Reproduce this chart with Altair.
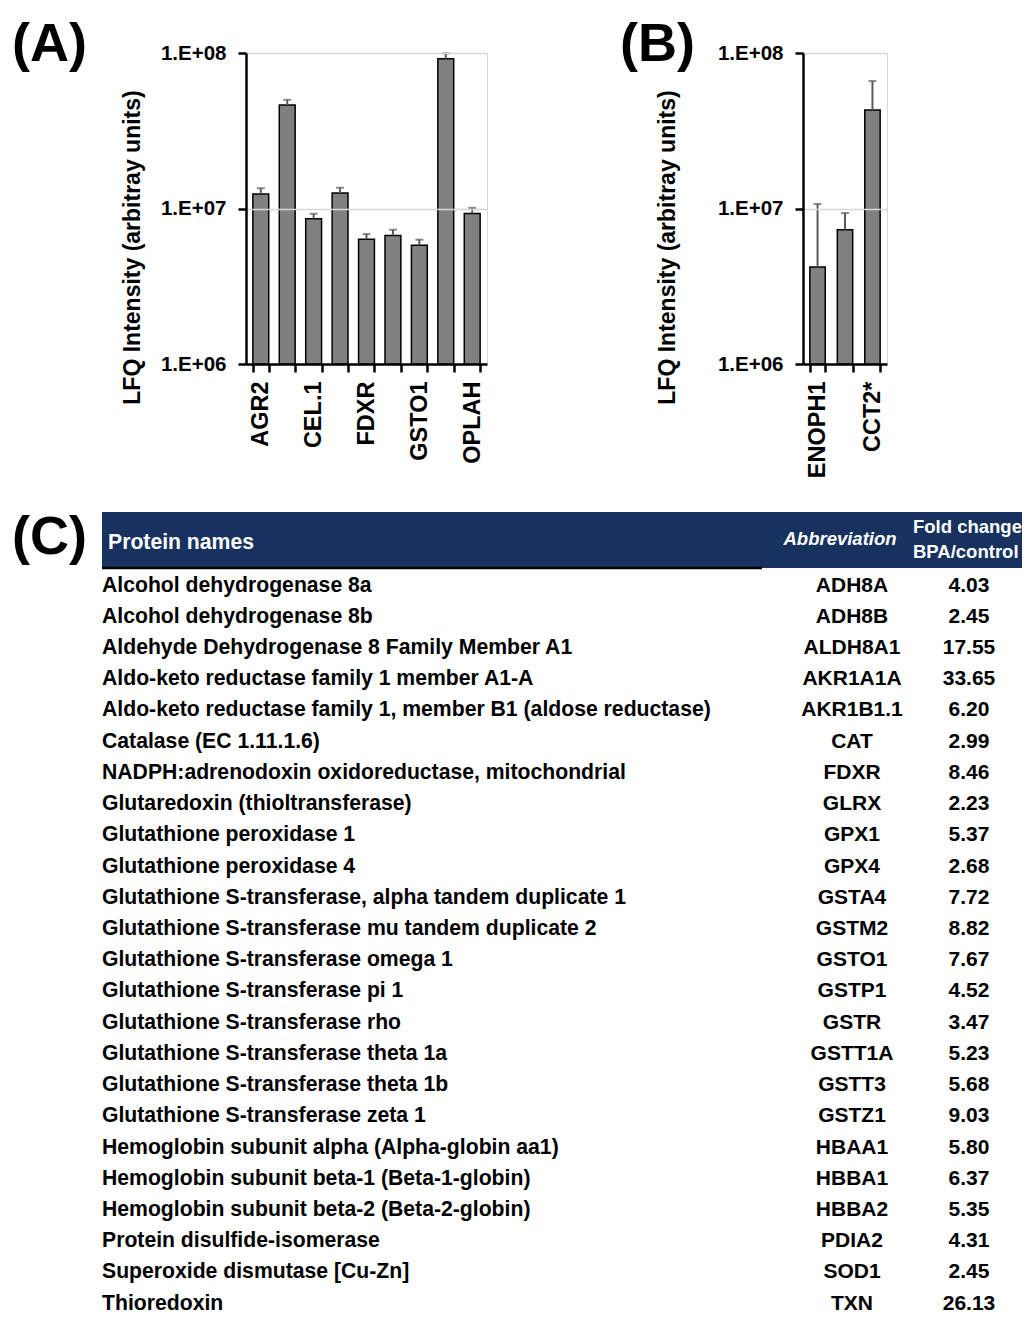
import json
import altair as alt
import pandas as pd

SANS = "Liberation Sans, Arial"

# ---------------- Panel A data ----------------
genes_a = ["AGR2", "A_bar2", "CEL.1", "A_bar4", "FDXR", "A_bar6", "GSTO1", "A_bar8", "OPLAH"]
shown_a = ["AGR2", "CEL.1", "FDXR", "GSTO1", "OPLAH"]
lfq_a = [1.24e7, 4.63e7, 8.6e6, 1.26e7, 6.35e6, 6.7e6, 5.8e6, 9.2e7, 9.3e6]
upper_a = [1.35e7, 5.0e7, 9.25e6, 1.36e7, 6.85e6, 7.3e6, 6.3e6, 9.95e7, 1.01e7]

# ---------------- Panel B data ----------------
genes_b = ["ENOPH1", "B_bar2", "CCT2*"]
shown_b = ["ENOPH1", "CCT2*"]
lfq_b = [4.2e6, 7.3e6, 4.3e7]
upper_b = [1.07e7, 9.35e6, 6.6e7]

y_ticks = [1e6, 1e7, 1e8]
y_base = 1e6
y_title = "LFQ Intensity (arbitray units)"
panel_letters = ["(A)", "(B)", "(C)"]

# ---------------- Panel C data ----------------
protein_names = [
    "Alcohol dehydrogenase 8a",
    "Alcohol dehydrogenase 8b",
    "Aldehyde Dehydrogenase 8 Family Member A1",
    "Aldo-keto reductase family 1 member A1-A",
    "Aldo-keto reductase family 1, member B1 (aldose reductase)",
    "Catalase (EC 1.11.1.6)",
    "NADPH:adrenodoxin oxidoreductase, mitochondrial",
    "Glutaredoxin (thioltransferase)",
    "Glutathione peroxidase 1",
    "Glutathione peroxidase 4",
    "Glutathione S-transferase, alpha tandem duplicate 1",
    "Glutathione S-transferase mu tandem duplicate 2",
    "Glutathione S-transferase omega 1",
    "Glutathione S-transferase pi 1",
    "Glutathione S-transferase rho",
    "Glutathione S-transferase theta 1a",
    "Glutathione S-transferase theta 1b",
    "Glutathione S-transferase zeta 1",
    "Hemoglobin subunit alpha (Alpha-globin aa1)",
    "Hemoglobin subunit beta-1 (Beta-1-globin)",
    "Hemoglobin subunit beta-2 (Beta-2-globin)",
    "Protein disulfide-isomerase",
    "Superoxide dismutase [Cu-Zn]",
    "Thioredoxin",
]
abbreviations = [
    "ADH8A", "ADH8B", "ALDH8A1", "AKR1A1A", "AKR1B1.1", "CAT", "FDXR", "GLRX",
    "GPX1", "GPX4", "GSTA4", "GSTM2", "GSTO1", "GSTP1", "GSTR", "GSTT1A",
    "GSTT3", "GSTZ1", "HBAA1", "HBBA1", "HBBA2", "PDIA2", "SOD1", "TXN",
]
fold_changes = [
    "4.03", "2.45", "17.55", "33.65", "6.20", "2.99", "8.46", "2.23",
    "5.37", "2.68", "7.72", "8.82", "7.67", "4.52", "3.47", "5.23",
    "5.68", "9.03", "5.80", "6.37", "5.35", "4.31", "2.45", "26.13",
]
header_texts = ["Protein names", "Abbreviation", "Fold change", "BPA/control"]

PLOT_H = 311


def letter_layer(letter, dx, dy):
    return alt.Chart(pd.DataFrame({"t": [letter]})).mark_text(
        align="left", baseline="alphabetic", font=SANS, fontSize=54,
        fontWeight="bold", color="black",
    ).encode(text="t:N", x=alt.value(dx), y=alt.value(dy))


def bar_panel(genes, vals, uppers, shown, width, title_pad, pad_inner, pad_outer):
    df = pd.DataFrame({"gene": genes, "lfq": vals, "upper": uppers})
    label_expr = "indexof(" + json.dumps(shown) + ", datum.value) >= 0 ? datum.label : ''"
    x = alt.X(
        "gene:N", sort=None, title=None,
        scale=alt.Scale(paddingInner=pad_inner, paddingOuter=pad_outer),
        axis=alt.Axis(
            labelAngle=-90, labelExpr=label_expr, tickBand="extent",
            tickSize=8, tickWidth=2.5, tickColor="black",
            domainColor="black", domainWidth=2.5,
            labelPadding=9, labelFont=SANS, labelFontSize=23.5,
            labelFontWeight="bold", labelColor="black", zindex=1,
        ),
    )
    y = alt.Y(
        "lfq:Q", title=y_title,
        scale=alt.Scale(type="log", domain=[1e6, 1e8]),
        axis=alt.Axis(
            values=y_ticks, labelExpr="'1.E+0' + round(log(datum.value) / LN10)",
            grid=True, gridColor="#d6d6d6", gridWidth=1.5,
            tickSize=8, tickWidth=2.5, tickColor="black",
            domainColor="black", domainWidth=2.5,
            labelPadding=12, labelFont=SANS, labelFontSize=20.5,
            labelFontWeight="bold", labelColor="black",
            titleFont=SANS, titleFontSize=23, titleFontWeight="bold",
            titleColor="black", titlePadding=title_pad, titleY=194, zindex=1,
        ),
    )
    bars = alt.Chart(df).mark_bar(fill="#808080", stroke="black", strokeWidth=1.5).encode(
        x=x, y=y, y2=alt.datum(y_base))
    err = alt.Chart(df).mark_rule(color="#5a5a5a", strokeWidth=2).encode(
        x=x, y="lfq:Q", y2="upper:Q")
    cap = alt.Chart(df).mark_tick(color="#5a5a5a", size=8, thickness=2).encode(
        x=x, y="upper:Q")
    return [bars, err, cap], width


layers_a, w_a = bar_panel(genes_a, lfq_a, upper_a, shown_a, 241, 16, 0.4, 0.26)
layers_b, w_b = bar_panel(genes_b, lfq_b, upper_b, shown_b, 84, 38, 0.44, 0.25)

letter_a = letter_layer(panel_letters[0], -90, 8).properties(
    width=1, height=PLOT_H, view=alt.ViewBackground(stroke=None))
panel_a = alt.layer(*layers_a).properties(width=w_a, height=PLOT_H)
panel_b = alt.layer(*layers_b, letter_layer(panel_letters[1], -183, 8)).properties(
    width=w_b, height=PLOT_H)

top_row = alt.hconcat(
    alt.hconcat(letter_a, panel_a, spacing=17), panel_b, spacing=131)

# ---------------- Panel C: table ----------------
TABLE_W = 920
ROW_H = 31.22
NAVY = "#17325f"

hdf = pd.DataFrame({"t": header_texts})
hdr_base = alt.Chart(hdf)
h_names = hdr_base.transform_filter(alt.datum.t == header_texts[0]).mark_text(
    align="left", baseline="middle", font=SANS, fontSize=21.2, fontWeight="bold",
    color="white").encode(text="t:N", x=alt.value(6), y=alt.value(31))
h_abbr = hdr_base.transform_filter(alt.datum.t == header_texts[1]).mark_text(
    align="center", baseline="middle", font=SANS, fontSize=18.5, fontWeight="bold",
    fontStyle="italic", color="white").encode(text="t:N", x=alt.value(738), y=alt.value(27))
h_fold1 = hdr_base.transform_filter(alt.datum.t == header_texts[2]).mark_text(
    align="left", baseline="middle", font=SANS, fontSize=18.5, fontWeight="bold",
    color="white").encode(text="t:N", x=alt.value(811), y=alt.value(15))
h_fold2 = hdr_base.transform_filter(alt.datum.t == header_texts[3]).mark_text(
    align="left", baseline="middle", font=SANS, fontSize=18.5, fontWeight="bold",
    color="white").encode(text="t:N", x=alt.value(811), y=alt.value(40))
h_line = hdr_base.transform_filter(alt.datum.t == header_texts[0]).mark_rule(
    color="black", strokeWidth=2.5).encode(x=alt.value(0), x2=alt.value(660), y=alt.value(56))

header = alt.layer(
    h_names, h_abbr, h_fold1, h_fold2, h_line, letter_layer(panel_letters[2], -90, 42)
).properties(
    width=TABLE_W, height=56,
    view=alt.ViewBackground(fill=NAVY, stroke=None),
)

tdf = pd.DataFrame({
    "row": list(range(len(protein_names))),
    "name": protein_names,
    "abbr": abbreviations,
    "fold": fold_changes,
})
ty = alt.Y("row:O", axis=None, scale=alt.Scale(paddingInner=0, paddingOuter=0))
body_base = alt.Chart(tdf)
t_names = body_base.mark_text(align="left", baseline="middle", font=SANS, fontSize=21.2,
                              fontWeight="bold", color="black").encode(
    y=ty, text="name:N", x=alt.value(0))
t_abbr = body_base.mark_text(align="center", baseline="middle", font=SANS, fontSize=21,
                             fontWeight="bold", color="black").encode(
    y=ty, text="abbr:N", x=alt.value(750))
t_fold = body_base.mark_text(align="center", baseline="middle", font=SANS, fontSize=21,
                             fontWeight="bold", color="black").encode(
    y=ty, text="fold:N", x=alt.value(867))
body = alt.layer(t_names, t_abbr, t_fold).properties(
    width=TABLE_W, height=ROW_H * len(protein_names),
    view=alt.ViewBackground(stroke=None),
)

table = alt.vconcat(header, body, spacing=0)

chart = alt.vconcat(top_row, table, spacing=32).properties(
    padding={"left": 4, "top": 9, "right": 0, "bottom": 0}
).configure_view(stroke="#d6d6d6")

chart.save("out.html", embed_options={"renderer": "svg", "actions": False})
